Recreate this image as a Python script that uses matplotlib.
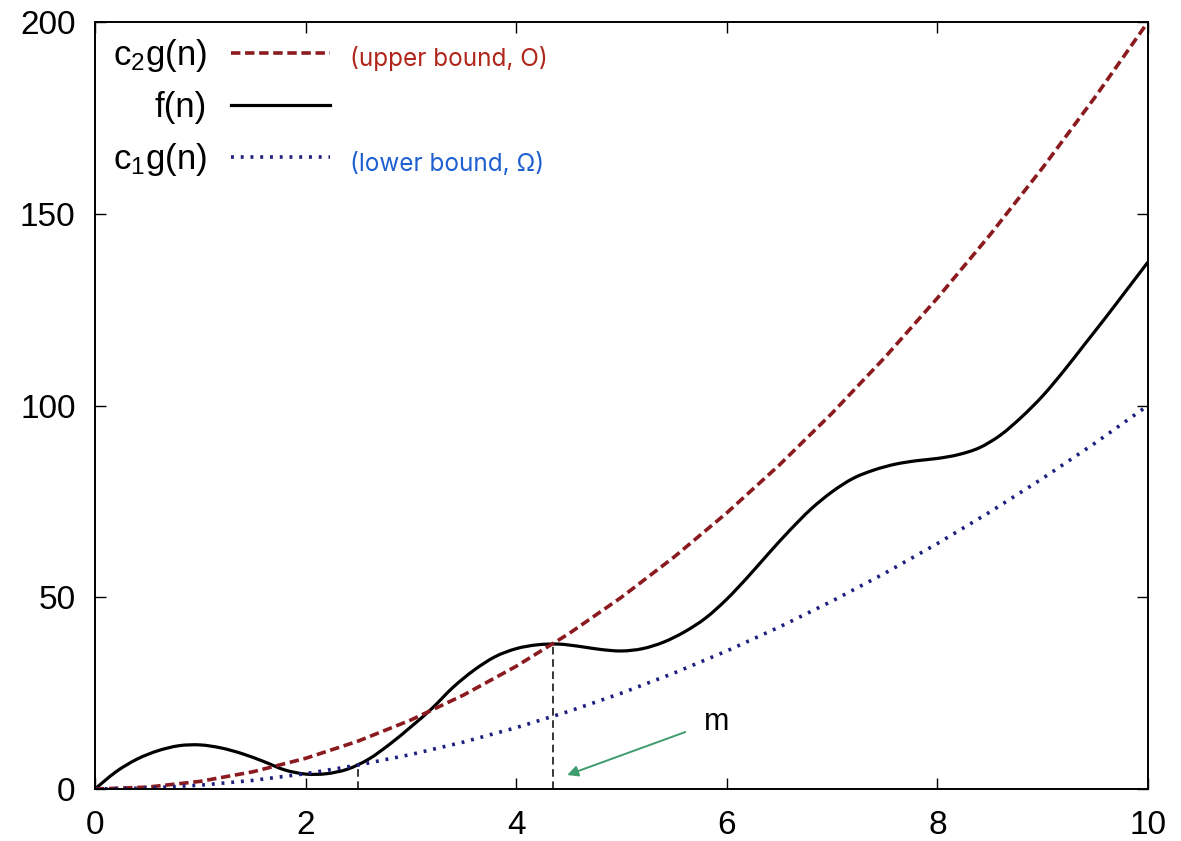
import matplotlib
matplotlib.use("Agg")
import matplotlib.pyplot as plt
from matplotlib.lines import Line2D
from matplotlib.path import Path
from matplotlib.patches import PathPatch

plt.rcParams['font.family'] = ['Liberation Sans', 'DejaVu Sans']
plt.rcParams['mathtext.default'] = 'regular'

# bounds, every 0.5
n_bound = [0, 0.5, 1, 1.5, 2, 2.5, 3, 3.5, 4, 4.5, 5, 5.5, 6, 6.5, 7, 7.5, 8, 8.5, 9, 9.5, 10]
upper = [0, 0.5, 2, 4.5, 8, 12.5, 18, 24.5, 32, 40.5, 50, 60.5, 72, 84.5, 98, 112.5, 128, 144.5, 162, 180.5, 200]
lower = [0, 0.25, 1, 2.25, 4, 6.25, 9, 12.25, 16, 20.25, 25, 30.25, 36, 42.25, 49, 56.25, 64, 72.25, 81, 90.25, 100]

# f(n), every 0.2
n_f = [0, 0.2, 0.4, 0.6, 0.8, 1.0, 1.2, 1.4, 1.6, 1.8, 2.0, 2.2, 2.4, 2.6, 2.8,
       3.0, 3.2, 3.4, 3.6, 3.8, 4.0, 4.2, 4.4, 4.6, 4.8, 5.0, 5.2, 5.4, 5.6, 5.8,
       6.0, 6.2, 6.4, 6.6, 6.8, 7.0, 7.2, 7.4, 7.6, 7.8, 8.0, 8.2, 8.4, 8.6, 8.8,
       9.0, 9.2, 9.4, 9.6, 9.8, 10.0]
f = [0, 4.5, 7.8, 10.0, 11.3, 11.5, 10.7, 9.2, 7.2, 5.0, 3.9, 4.0, 5.2, 7.8, 11.7,
     16.2, 21.0, 26.5, 31.0, 34.5, 36.6, 37.6, 37.8, 37.2, 36.4, 36.0, 36.6, 38.3, 41.0, 44.6,
     49.5, 55.3, 61.5, 67.5, 73.0, 77.5, 81.0, 83.2, 84.7, 85.6, 86.2, 87.2, 89.0, 92.3, 97.0,
     102.5, 109.0, 116.0, 123.0, 130.2, 137.4]

# crossing points marked with vertical lines
cross_x = [2.5, 4.35]
cross_y = [6.25, 37.8]

red = '#8b1a1f'
blue = '#1f1f80'
red_ls = (0, (2.6, 1.3))
blue_ls = (0, (0.8, 1.9))


def smooth(xs, ys):
    # curve through the traced points (Catmull-Rom as cubic Bezier)
    pts = list(zip(xs, ys))
    verts = [pts[0]]
    codes = [Path.MOVETO]
    for i in range(len(pts) - 1):
        p0 = pts[i - 1] if i > 0 else pts[i]
        p1, p2 = pts[i], pts[i + 1]
        p3 = pts[i + 2] if i + 2 < len(pts) else pts[i + 1]
        c1 = (p1[0] + (p2[0] - p0[0]) / 6, p1[1] + (p2[1] - p0[1]) / 6)
        c2 = (p2[0] - (p3[0] - p1[0]) / 6, p2[1] - (p3[1] - p1[1]) / 6)
        verts += [c1, c2, p2]
        codes += [Path.CURVE4] * 3
    return Path(verts, codes)


fig = plt.figure(figsize=(11.81, 8.41), dpi=100)
ax = fig.add_axes([0.0804, 0.0618, 0.8916, 0.912])

ax.plot(n_bound, upper, color=red, lw=2.6, ls=red_ls)
ax.add_patch(PathPatch(smooth(n_f, f), fill=False, edgecolor='black', lw=2.3))
ax.plot(n_bound, lower, color=blue, lw=2.6, ls=blue_ls)

for x, y in zip(cross_x, cross_y):
    ax.plot([x, x], [0, y], color='black', lw=1.1, ls=(0, (5, 3)))

ax.annotate('', xy=(4.46, 3.4), xytext=(5.63, 15.1),
            arrowprops=dict(arrowstyle='-|>', color='#3f9c6c', lw=1.4, mutation_scale=16))
ax.text(5.9, 17.5, 'm', fontsize=22, ha='center', va='center')

ax.set_xlim(0, 10)
ax.set_ylim(0, 200)
ax.set_xticks([0, 2, 4, 6, 8, 10])
ax.set_yticks([0, 50, 100, 150, 200])
ax.tick_params(direction='in', top=True, right=True, length=8, width=1, labelsize=24)
ax.tick_params(axis='x', pad=15)
ax.tick_params(axis='y', pad=14)
for s in ax.spines.values():
    s.set_linewidth(1.4)

handles = [Line2D([], [], color=red, lw=2.6, ls=red_ls),
           Line2D([], [], color='black', lw=2.3),
           Line2D([], [], color=blue, lw=2.6, ls=blue_ls)]
labels = ['c$_2$g(n)', 'f(n)', 'c$_1$g(n)']
ax.legend(handles, labels, loc='upper left', bbox_to_anchor=(-0.003, 1.008),
          frameon=False, markerfirst=False, fontsize=25, handlelength=2.85,
          handletextpad=0.7, labelspacing=0.5, borderaxespad=0.2)

ax.text(0.242, 0.953, '(upper bound, O)', transform=ax.transAxes, color='#b0261a',
        fontsize=17.5, family=['Inter', 'DejaVu Sans'], va='center')
ax.text(0.242, 0.815, '(lower bound, Ω)', transform=ax.transAxes, color='#1f5fd0',
        fontsize=17.5, family=['Inter', 'DejaVu Sans'], va='center')

fig.savefig('out.png', dpi=100)
